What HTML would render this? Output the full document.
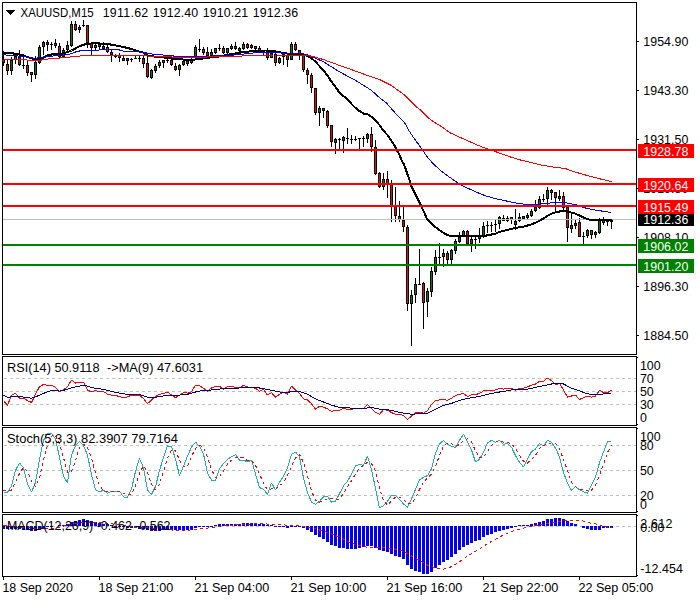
<!DOCTYPE html>
<html><head><meta charset="utf-8"><title>XAUUSD M15</title>
<style>html,body{margin:0;padding:0;background:#fff;}body{width:700px;height:600px;overflow:hidden;font-family:"Liberation Sans",sans-serif;}svg{display:block;}</style>
</head><body>
<svg width="700" height="600" viewBox="0 0 700 600" shape-rendering="crispEdges" font-family="Liberation Sans, sans-serif" font-size="12.4px">
<rect x="0" y="0" width="700" height="600" fill="#fff"/>
<g id="main">
<rect x="3" y="51" width="1" height="15" fill="#000"/>
<rect x="2" y="59" width="3" height="4" fill="#000"/>
<rect x="3" y="60" width="1" height="2" fill="#ff0000"/>
<rect x="7" y="60" width="1" height="15" fill="#000"/>
<rect x="6" y="64" width="3" height="7" fill="#000"/>
<rect x="7" y="65" width="1" height="5" fill="#ff0000"/>
<rect x="11" y="57" width="1" height="18" fill="#000"/>
<rect x="10" y="60" width="3" height="11" fill="#000"/>
<rect x="11" y="61" width="1" height="9" fill="#008000"/>
<rect x="15" y="54" width="1" height="10" fill="#000"/>
<rect x="14" y="56" width="3" height="4" fill="#000"/>
<rect x="15" y="57" width="1" height="2" fill="#008000"/>
<rect x="19" y="50" width="1" height="16" fill="#000"/>
<rect x="18" y="57" width="3" height="8" fill="#000"/>
<rect x="19" y="58" width="1" height="6" fill="#ff0000"/>
<rect x="23" y="57" width="1" height="12" fill="#000"/>
<rect x="22" y="65" width="3" height="1" fill="#000"/>
<rect x="27" y="61" width="1" height="15" fill="#000"/>
<rect x="26" y="65" width="3" height="8" fill="#000"/>
<rect x="27" y="66" width="1" height="6" fill="#ff0000"/>
<rect x="31" y="72" width="1" height="10" fill="#000"/>
<rect x="30" y="72" width="3" height="3" fill="#000"/>
<rect x="31" y="73" width="1" height="1" fill="#ff0000"/>
<rect x="35" y="56" width="1" height="23" fill="#000"/>
<rect x="34" y="62" width="3" height="13" fill="#000"/>
<rect x="35" y="63" width="1" height="11" fill="#008000"/>
<rect x="39" y="45" width="1" height="19" fill="#000"/>
<rect x="38" y="47" width="3" height="16" fill="#000"/>
<rect x="39" y="48" width="1" height="14" fill="#008000"/>
<rect x="43" y="41" width="1" height="14" fill="#000"/>
<rect x="42" y="42" width="3" height="5" fill="#000"/>
<rect x="43" y="43" width="1" height="3" fill="#008000"/>
<rect x="47" y="40" width="1" height="11" fill="#000"/>
<rect x="46" y="42" width="3" height="3" fill="#000"/>
<rect x="47" y="43" width="1" height="1" fill="#ff0000"/>
<rect x="51" y="42" width="1" height="8" fill="#000"/>
<rect x="50" y="44" width="3" height="1" fill="#000"/>
<rect x="55" y="39" width="1" height="9" fill="#000"/>
<rect x="54" y="43" width="3" height="3" fill="#000"/>
<rect x="55" y="44" width="1" height="1" fill="#ff0000"/>
<rect x="59" y="43" width="1" height="15" fill="#000"/>
<rect x="58" y="46" width="3" height="11" fill="#000"/>
<rect x="59" y="47" width="1" height="9" fill="#ff0000"/>
<rect x="63" y="48" width="1" height="10" fill="#000"/>
<rect x="62" y="50" width="3" height="7" fill="#000"/>
<rect x="63" y="51" width="1" height="5" fill="#008000"/>
<rect x="67" y="41" width="1" height="10" fill="#000"/>
<rect x="66" y="45" width="3" height="5" fill="#000"/>
<rect x="67" y="46" width="1" height="3" fill="#008000"/>
<rect x="71" y="21" width="1" height="26" fill="#000"/>
<rect x="70" y="24" width="3" height="22" fill="#000"/>
<rect x="71" y="25" width="1" height="20" fill="#008000"/>
<rect x="75" y="21" width="1" height="10" fill="#000"/>
<rect x="74" y="24" width="3" height="6" fill="#000"/>
<rect x="75" y="25" width="1" height="4" fill="#ff0000"/>
<rect x="79" y="25" width="1" height="8" fill="#000"/>
<rect x="78" y="27" width="3" height="3" fill="#000"/>
<rect x="79" y="28" width="1" height="1" fill="#008000"/>
<rect x="83" y="20" width="1" height="7" fill="#000"/>
<rect x="82" y="25" width="3" height="1" fill="#000"/>
<rect x="87" y="25" width="1" height="23" fill="#000"/>
<rect x="86" y="25" width="3" height="18" fill="#000"/>
<rect x="87" y="26" width="1" height="16" fill="#ff0000"/>
<rect x="91" y="43" width="1" height="12" fill="#000"/>
<rect x="90" y="43" width="3" height="5" fill="#000"/>
<rect x="91" y="44" width="1" height="3" fill="#ff0000"/>
<rect x="95" y="42" width="1" height="8" fill="#000"/>
<rect x="94" y="45" width="3" height="3" fill="#000"/>
<rect x="95" y="46" width="1" height="1" fill="#008000"/>
<rect x="99" y="42" width="1" height="8" fill="#000"/>
<rect x="98" y="44" width="3" height="3" fill="#000"/>
<rect x="99" y="45" width="1" height="1" fill="#ff0000"/>
<rect x="103" y="42" width="1" height="8" fill="#000"/>
<rect x="102" y="46" width="3" height="3" fill="#000"/>
<rect x="103" y="47" width="1" height="1" fill="#008000"/>
<rect x="107" y="45" width="1" height="8" fill="#000"/>
<rect x="106" y="47" width="3" height="5" fill="#000"/>
<rect x="107" y="48" width="1" height="3" fill="#ff0000"/>
<rect x="111" y="50" width="1" height="12" fill="#000"/>
<rect x="110" y="52" width="3" height="3" fill="#000"/>
<rect x="111" y="53" width="1" height="1" fill="#ff0000"/>
<rect x="115" y="54" width="1" height="4" fill="#000"/>
<rect x="114" y="56" width="3" height="1" fill="#000"/>
<rect x="119" y="53" width="1" height="9" fill="#000"/>
<rect x="118" y="55" width="3" height="3" fill="#000"/>
<rect x="119" y="56" width="1" height="1" fill="#ff0000"/>
<rect x="123" y="56" width="1" height="5" fill="#000"/>
<rect x="122" y="58" width="3" height="3" fill="#000"/>
<rect x="123" y="59" width="1" height="1" fill="#ff0000"/>
<rect x="127" y="58" width="1" height="7" fill="#000"/>
<rect x="126" y="58" width="3" height="3" fill="#000"/>
<rect x="127" y="59" width="1" height="1" fill="#ff0000"/>
<rect x="131" y="58" width="1" height="4" fill="#000"/>
<rect x="130" y="59" width="3" height="1" fill="#000"/>
<rect x="135" y="55" width="1" height="3" fill="#000"/>
<rect x="134" y="58" width="3" height="1" fill="#000"/>
<rect x="139" y="55" width="1" height="7" fill="#000"/>
<rect x="138" y="58" width="3" height="1" fill="#000"/>
<rect x="143" y="56" width="1" height="12" fill="#000"/>
<rect x="142" y="58" width="3" height="6" fill="#000"/>
<rect x="143" y="59" width="1" height="4" fill="#ff0000"/>
<rect x="147" y="57" width="1" height="21" fill="#000"/>
<rect x="146" y="63" width="3" height="14" fill="#000"/>
<rect x="147" y="64" width="1" height="12" fill="#ff0000"/>
<rect x="151" y="69" width="1" height="10" fill="#000"/>
<rect x="150" y="70" width="3" height="8" fill="#000"/>
<rect x="151" y="71" width="1" height="6" fill="#008000"/>
<rect x="155" y="64" width="1" height="9" fill="#000"/>
<rect x="154" y="66" width="3" height="5" fill="#000"/>
<rect x="155" y="67" width="1" height="3" fill="#008000"/>
<rect x="159" y="60" width="1" height="8" fill="#000"/>
<rect x="158" y="62" width="3" height="4" fill="#000"/>
<rect x="159" y="63" width="1" height="2" fill="#008000"/>
<rect x="163" y="60" width="1" height="8" fill="#000"/>
<rect x="162" y="60" width="3" height="3" fill="#000"/>
<rect x="163" y="61" width="1" height="1" fill="#008000"/>
<rect x="167" y="58" width="1" height="5" fill="#000"/>
<rect x="166" y="60" width="3" height="1" fill="#000"/>
<rect x="171" y="58" width="1" height="8" fill="#000"/>
<rect x="170" y="60" width="3" height="5" fill="#000"/>
<rect x="171" y="61" width="1" height="3" fill="#ff0000"/>
<rect x="175" y="63" width="1" height="8" fill="#000"/>
<rect x="174" y="66" width="3" height="4" fill="#000"/>
<rect x="175" y="67" width="1" height="2" fill="#ff0000"/>
<rect x="179" y="64" width="1" height="12" fill="#000"/>
<rect x="178" y="65" width="3" height="5" fill="#000"/>
<rect x="179" y="66" width="1" height="3" fill="#008000"/>
<rect x="183" y="60" width="1" height="6" fill="#000"/>
<rect x="182" y="61" width="3" height="4" fill="#000"/>
<rect x="183" y="62" width="1" height="2" fill="#008000"/>
<rect x="187" y="60" width="1" height="6" fill="#000"/>
<rect x="186" y="61" width="3" height="3" fill="#000"/>
<rect x="187" y="62" width="1" height="1" fill="#ff0000"/>
<rect x="191" y="56" width="1" height="8" fill="#000"/>
<rect x="190" y="60" width="3" height="3" fill="#000"/>
<rect x="191" y="61" width="1" height="1" fill="#008000"/>
<rect x="195" y="45" width="1" height="13" fill="#000"/>
<rect x="194" y="47" width="3" height="10" fill="#000"/>
<rect x="195" y="48" width="1" height="8" fill="#008000"/>
<rect x="199" y="39" width="1" height="13" fill="#000"/>
<rect x="198" y="49" width="3" height="1" fill="#000"/>
<rect x="203" y="47" width="1" height="8" fill="#000"/>
<rect x="202" y="49" width="3" height="4" fill="#000"/>
<rect x="203" y="50" width="1" height="2" fill="#ff0000"/>
<rect x="207" y="47" width="1" height="12" fill="#000"/>
<rect x="206" y="52" width="3" height="4" fill="#000"/>
<rect x="207" y="53" width="1" height="2" fill="#ff0000"/>
<rect x="211" y="49" width="1" height="8" fill="#000"/>
<rect x="210" y="52" width="3" height="4" fill="#000"/>
<rect x="211" y="53" width="1" height="2" fill="#008000"/>
<rect x="215" y="48" width="1" height="6" fill="#000"/>
<rect x="214" y="48" width="3" height="5" fill="#000"/>
<rect x="215" y="49" width="1" height="3" fill="#008000"/>
<rect x="219" y="44" width="1" height="7" fill="#000"/>
<rect x="218" y="48" width="3" height="1" fill="#000"/>
<rect x="223" y="46" width="1" height="8" fill="#000"/>
<rect x="222" y="48" width="3" height="5" fill="#000"/>
<rect x="223" y="49" width="1" height="3" fill="#ff0000"/>
<rect x="227" y="48" width="1" height="7" fill="#000"/>
<rect x="226" y="48" width="3" height="5" fill="#000"/>
<rect x="227" y="49" width="1" height="3" fill="#008000"/>
<rect x="231" y="44" width="1" height="6" fill="#000"/>
<rect x="230" y="46" width="3" height="3" fill="#000"/>
<rect x="231" y="47" width="1" height="1" fill="#008000"/>
<rect x="235" y="42" width="1" height="8" fill="#000"/>
<rect x="234" y="46" width="3" height="3" fill="#000"/>
<rect x="235" y="47" width="1" height="1" fill="#ff0000"/>
<rect x="239" y="47" width="1" height="5" fill="#000"/>
<rect x="238" y="48" width="3" height="3" fill="#000"/>
<rect x="239" y="49" width="1" height="1" fill="#008000"/>
<rect x="243" y="42" width="1" height="8" fill="#000"/>
<rect x="242" y="44" width="3" height="5" fill="#000"/>
<rect x="243" y="45" width="1" height="3" fill="#008000"/>
<rect x="247" y="43" width="1" height="6" fill="#000"/>
<rect x="246" y="44" width="3" height="4" fill="#000"/>
<rect x="247" y="45" width="1" height="2" fill="#ff0000"/>
<rect x="251" y="44" width="1" height="5" fill="#000"/>
<rect x="250" y="45" width="3" height="3" fill="#000"/>
<rect x="251" y="46" width="1" height="1" fill="#ff0000"/>
<rect x="255" y="46" width="1" height="4" fill="#000"/>
<rect x="254" y="46" width="3" height="3" fill="#000"/>
<rect x="255" y="47" width="1" height="1" fill="#ff0000"/>
<rect x="259" y="46" width="1" height="5" fill="#000"/>
<rect x="258" y="48" width="3" height="3" fill="#000"/>
<rect x="259" y="49" width="1" height="1" fill="#ff0000"/>
<rect x="263" y="50" width="1" height="5" fill="#000"/>
<rect x="262" y="52" width="3" height="1" fill="#000"/>
<rect x="267" y="48" width="1" height="12" fill="#000"/>
<rect x="266" y="51" width="3" height="7" fill="#000"/>
<rect x="267" y="52" width="1" height="5" fill="#ff0000"/>
<rect x="271" y="51" width="1" height="7" fill="#000"/>
<rect x="270" y="53" width="3" height="5" fill="#000"/>
<rect x="271" y="54" width="1" height="3" fill="#008000"/>
<rect x="275" y="53" width="1" height="13" fill="#000"/>
<rect x="274" y="54" width="3" height="9" fill="#000"/>
<rect x="275" y="55" width="1" height="7" fill="#ff0000"/>
<rect x="279" y="57" width="1" height="7" fill="#000"/>
<rect x="278" y="58" width="3" height="5" fill="#000"/>
<rect x="279" y="59" width="1" height="3" fill="#008000"/>
<rect x="283" y="54" width="1" height="11" fill="#000"/>
<rect x="282" y="54" width="3" height="3" fill="#000"/>
<rect x="283" y="55" width="1" height="1" fill="#008000"/>
<rect x="287" y="54" width="1" height="13" fill="#000"/>
<rect x="286" y="55" width="3" height="5" fill="#000"/>
<rect x="287" y="56" width="1" height="3" fill="#ff0000"/>
<rect x="291" y="42" width="1" height="18" fill="#000"/>
<rect x="290" y="44" width="3" height="16" fill="#000"/>
<rect x="291" y="45" width="1" height="14" fill="#008000"/>
<rect x="295" y="42" width="1" height="9" fill="#000"/>
<rect x="294" y="44" width="3" height="6" fill="#000"/>
<rect x="295" y="45" width="1" height="4" fill="#ff0000"/>
<rect x="299" y="50" width="1" height="10" fill="#000"/>
<rect x="298" y="50" width="3" height="5" fill="#000"/>
<rect x="299" y="51" width="1" height="3" fill="#ff0000"/>
<rect x="303" y="55" width="1" height="17" fill="#000"/>
<rect x="302" y="55" width="3" height="15" fill="#000"/>
<rect x="303" y="56" width="1" height="13" fill="#ff0000"/>
<rect x="307" y="68" width="1" height="16" fill="#000"/>
<rect x="306" y="70" width="3" height="5" fill="#000"/>
<rect x="307" y="71" width="1" height="3" fill="#ff0000"/>
<rect x="311" y="73" width="1" height="20" fill="#000"/>
<rect x="310" y="75" width="3" height="13" fill="#000"/>
<rect x="311" y="76" width="1" height="11" fill="#ff0000"/>
<rect x="315" y="88" width="1" height="27" fill="#000"/>
<rect x="314" y="88" width="3" height="25" fill="#000"/>
<rect x="315" y="89" width="1" height="23" fill="#ff0000"/>
<rect x="319" y="106" width="1" height="20" fill="#000"/>
<rect x="318" y="108" width="3" height="5" fill="#000"/>
<rect x="319" y="109" width="1" height="3" fill="#008000"/>
<rect x="323" y="108" width="1" height="10" fill="#000"/>
<rect x="322" y="108" width="3" height="3" fill="#000"/>
<rect x="323" y="109" width="1" height="1" fill="#ff0000"/>
<rect x="327" y="110" width="1" height="18" fill="#000"/>
<rect x="326" y="111" width="3" height="15" fill="#000"/>
<rect x="327" y="112" width="1" height="13" fill="#ff0000"/>
<rect x="331" y="125" width="1" height="22" fill="#000"/>
<rect x="330" y="125" width="3" height="17" fill="#000"/>
<rect x="331" y="126" width="1" height="15" fill="#ff0000"/>
<rect x="335" y="138" width="1" height="16" fill="#000"/>
<rect x="334" y="139" width="3" height="4" fill="#000"/>
<rect x="335" y="140" width="1" height="2" fill="#008000"/>
<rect x="339" y="138" width="1" height="12" fill="#000"/>
<rect x="338" y="139" width="3" height="1" fill="#000"/>
<rect x="343" y="136" width="1" height="17" fill="#000"/>
<rect x="342" y="137" width="3" height="4" fill="#000"/>
<rect x="343" y="138" width="1" height="2" fill="#008000"/>
<rect x="347" y="128" width="1" height="16" fill="#000"/>
<rect x="346" y="138" width="3" height="1" fill="#000"/>
<rect x="351" y="135" width="1" height="9" fill="#000"/>
<rect x="350" y="139" width="3" height="1" fill="#000"/>
<rect x="355" y="136" width="1" height="5" fill="#000"/>
<rect x="354" y="139" width="3" height="1" fill="#000"/>
<rect x="359" y="138" width="1" height="11" fill="#000"/>
<rect x="358" y="138" width="3" height="1" fill="#000"/>
<rect x="363" y="136" width="1" height="11" fill="#000"/>
<rect x="362" y="138" width="3" height="1" fill="#000"/>
<rect x="367" y="133" width="1" height="10" fill="#000"/>
<rect x="366" y="134" width="3" height="5" fill="#000"/>
<rect x="367" y="135" width="1" height="3" fill="#008000"/>
<rect x="371" y="127" width="1" height="25" fill="#000"/>
<rect x="370" y="134" width="3" height="13" fill="#000"/>
<rect x="371" y="135" width="1" height="11" fill="#ff0000"/>
<rect x="375" y="140" width="1" height="35" fill="#000"/>
<rect x="374" y="147" width="3" height="27" fill="#000"/>
<rect x="375" y="148" width="1" height="25" fill="#ff0000"/>
<rect x="379" y="172" width="1" height="16" fill="#000"/>
<rect x="378" y="173" width="3" height="14" fill="#000"/>
<rect x="379" y="174" width="1" height="12" fill="#ff0000"/>
<rect x="383" y="173" width="1" height="17" fill="#000"/>
<rect x="382" y="179" width="3" height="8" fill="#000"/>
<rect x="383" y="180" width="1" height="6" fill="#008000"/>
<rect x="387" y="171" width="1" height="27" fill="#000"/>
<rect x="386" y="179" width="3" height="5" fill="#000"/>
<rect x="387" y="180" width="1" height="3" fill="#ff0000"/>
<rect x="391" y="180" width="1" height="42" fill="#000"/>
<rect x="390" y="184" width="3" height="22" fill="#000"/>
<rect x="391" y="185" width="1" height="20" fill="#ff0000"/>
<rect x="395" y="187" width="1" height="35" fill="#000"/>
<rect x="394" y="206" width="3" height="10" fill="#000"/>
<rect x="395" y="207" width="1" height="8" fill="#ff0000"/>
<rect x="399" y="201" width="1" height="21" fill="#000"/>
<rect x="398" y="216" width="3" height="4" fill="#000"/>
<rect x="399" y="217" width="1" height="2" fill="#ff0000"/>
<rect x="403" y="207" width="1" height="25" fill="#000"/>
<rect x="402" y="220" width="3" height="7" fill="#000"/>
<rect x="403" y="221" width="1" height="5" fill="#ff0000"/>
<rect x="407" y="225" width="1" height="86" fill="#000"/>
<rect x="406" y="227" width="3" height="77" fill="#000"/>
<rect x="407" y="228" width="1" height="75" fill="#ff0000"/>
<rect x="411" y="290" width="1" height="56" fill="#000"/>
<rect x="410" y="295" width="3" height="9" fill="#000"/>
<rect x="411" y="296" width="1" height="7" fill="#008000"/>
<rect x="415" y="278" width="1" height="25" fill="#000"/>
<rect x="414" y="284" width="3" height="11" fill="#000"/>
<rect x="415" y="285" width="1" height="9" fill="#008000"/>
<rect x="419" y="249" width="1" height="35" fill="#000"/>
<rect x="418" y="284" width="3" height="1" fill="#000"/>
<rect x="423" y="282" width="1" height="47" fill="#000"/>
<rect x="422" y="283" width="3" height="20" fill="#000"/>
<rect x="423" y="284" width="1" height="18" fill="#ff0000"/>
<rect x="427" y="288" width="1" height="29" fill="#000"/>
<rect x="426" y="291" width="3" height="11" fill="#000"/>
<rect x="427" y="292" width="1" height="9" fill="#008000"/>
<rect x="431" y="267" width="1" height="30" fill="#000"/>
<rect x="430" y="271" width="3" height="21" fill="#000"/>
<rect x="431" y="272" width="1" height="19" fill="#008000"/>
<rect x="435" y="250" width="1" height="25" fill="#000"/>
<rect x="434" y="257" width="3" height="15" fill="#000"/>
<rect x="435" y="258" width="1" height="13" fill="#008000"/>
<rect x="439" y="243" width="1" height="21" fill="#000"/>
<rect x="438" y="257" width="3" height="1" fill="#000"/>
<rect x="443" y="249" width="1" height="18" fill="#000"/>
<rect x="442" y="253" width="3" height="4" fill="#000"/>
<rect x="443" y="254" width="1" height="2" fill="#008000"/>
<rect x="447" y="251" width="1" height="13" fill="#000"/>
<rect x="446" y="253" width="3" height="7" fill="#000"/>
<rect x="447" y="254" width="1" height="5" fill="#ff0000"/>
<rect x="451" y="249" width="1" height="15" fill="#000"/>
<rect x="450" y="250" width="3" height="10" fill="#000"/>
<rect x="451" y="251" width="1" height="8" fill="#008000"/>
<rect x="455" y="239" width="1" height="15" fill="#000"/>
<rect x="454" y="241" width="3" height="10" fill="#000"/>
<rect x="455" y="242" width="1" height="8" fill="#008000"/>
<rect x="459" y="232" width="1" height="11" fill="#000"/>
<rect x="458" y="237" width="3" height="5" fill="#000"/>
<rect x="459" y="238" width="1" height="3" fill="#008000"/>
<rect x="463" y="230" width="1" height="7" fill="#000"/>
<rect x="462" y="231" width="3" height="5" fill="#000"/>
<rect x="463" y="232" width="1" height="3" fill="#008000"/>
<rect x="467" y="230" width="1" height="14" fill="#000"/>
<rect x="466" y="231" width="3" height="13" fill="#000"/>
<rect x="467" y="232" width="1" height="11" fill="#ff0000"/>
<rect x="471" y="236" width="1" height="16" fill="#000"/>
<rect x="470" y="239" width="3" height="5" fill="#000"/>
<rect x="471" y="240" width="1" height="3" fill="#008000"/>
<rect x="475" y="236" width="1" height="13" fill="#000"/>
<rect x="474" y="239" width="3" height="1" fill="#000"/>
<rect x="479" y="228" width="1" height="15" fill="#000"/>
<rect x="478" y="236" width="3" height="3" fill="#000"/>
<rect x="479" y="237" width="1" height="1" fill="#008000"/>
<rect x="483" y="222" width="1" height="16" fill="#000"/>
<rect x="482" y="226" width="3" height="10" fill="#000"/>
<rect x="483" y="227" width="1" height="8" fill="#008000"/>
<rect x="487" y="221" width="1" height="12" fill="#000"/>
<rect x="486" y="225" width="3" height="1" fill="#000"/>
<rect x="491" y="222" width="1" height="10" fill="#000"/>
<rect x="490" y="225" width="3" height="1" fill="#000"/>
<rect x="495" y="220" width="1" height="12" fill="#000"/>
<rect x="494" y="224" width="3" height="1" fill="#000"/>
<rect x="499" y="216" width="1" height="13" fill="#000"/>
<rect x="498" y="217" width="3" height="7" fill="#000"/>
<rect x="499" y="218" width="1" height="5" fill="#008000"/>
<rect x="503" y="215" width="1" height="6" fill="#000"/>
<rect x="502" y="218" width="3" height="3" fill="#000"/>
<rect x="503" y="219" width="1" height="1" fill="#ff0000"/>
<rect x="507" y="216" width="1" height="6" fill="#000"/>
<rect x="506" y="218" width="3" height="3" fill="#000"/>
<rect x="507" y="219" width="1" height="1" fill="#008000"/>
<rect x="511" y="217" width="1" height="7" fill="#000"/>
<rect x="510" y="217" width="3" height="3" fill="#000"/>
<rect x="511" y="218" width="1" height="1" fill="#ff0000"/>
<rect x="515" y="209" width="1" height="21" fill="#000"/>
<rect x="514" y="221" width="3" height="4" fill="#000"/>
<rect x="515" y="222" width="1" height="2" fill="#008000"/>
<rect x="519" y="213" width="1" height="9" fill="#000"/>
<rect x="518" y="217" width="3" height="4" fill="#000"/>
<rect x="519" y="218" width="1" height="2" fill="#008000"/>
<rect x="523" y="216" width="1" height="3" fill="#000"/>
<rect x="522" y="216" width="3" height="3" fill="#000"/>
<rect x="523" y="217" width="1" height="1" fill="#008000"/>
<rect x="527" y="213" width="1" height="6" fill="#000"/>
<rect x="526" y="215" width="3" height="3" fill="#000"/>
<rect x="527" y="216" width="1" height="1" fill="#008000"/>
<rect x="531" y="209" width="1" height="8" fill="#000"/>
<rect x="530" y="211" width="3" height="5" fill="#000"/>
<rect x="531" y="212" width="1" height="3" fill="#008000"/>
<rect x="535" y="200" width="1" height="12" fill="#000"/>
<rect x="534" y="207" width="3" height="4" fill="#000"/>
<rect x="535" y="208" width="1" height="2" fill="#008000"/>
<rect x="539" y="196" width="1" height="13" fill="#000"/>
<rect x="538" y="199" width="3" height="9" fill="#000"/>
<rect x="539" y="200" width="1" height="7" fill="#008000"/>
<rect x="543" y="194" width="1" height="8" fill="#000"/>
<rect x="542" y="199" width="3" height="1" fill="#000"/>
<rect x="547" y="187" width="1" height="18" fill="#000"/>
<rect x="546" y="190" width="3" height="9" fill="#000"/>
<rect x="547" y="191" width="1" height="7" fill="#008000"/>
<rect x="551" y="189" width="1" height="11" fill="#000"/>
<rect x="550" y="190" width="3" height="3" fill="#000"/>
<rect x="551" y="191" width="1" height="1" fill="#ff0000"/>
<rect x="555" y="192" width="1" height="19" fill="#000"/>
<rect x="554" y="192" width="3" height="6" fill="#000"/>
<rect x="555" y="193" width="1" height="4" fill="#ff0000"/>
<rect x="559" y="190" width="1" height="11" fill="#000"/>
<rect x="558" y="196" width="3" height="3" fill="#000"/>
<rect x="559" y="197" width="1" height="1" fill="#008000"/>
<rect x="563" y="192" width="1" height="19" fill="#000"/>
<rect x="562" y="196" width="3" height="12" fill="#000"/>
<rect x="563" y="197" width="1" height="10" fill="#ff0000"/>
<rect x="567" y="207" width="1" height="35" fill="#000"/>
<rect x="566" y="207" width="3" height="21" fill="#000"/>
<rect x="567" y="208" width="1" height="19" fill="#ff0000"/>
<rect x="571" y="214" width="1" height="19" fill="#000"/>
<rect x="570" y="225" width="3" height="4" fill="#000"/>
<rect x="571" y="226" width="1" height="2" fill="#008000"/>
<rect x="575" y="220" width="1" height="9" fill="#000"/>
<rect x="574" y="223" width="3" height="3" fill="#000"/>
<rect x="575" y="224" width="1" height="1" fill="#008000"/>
<rect x="579" y="218" width="1" height="19" fill="#000"/>
<rect x="578" y="222" width="3" height="15" fill="#000"/>
<rect x="579" y="223" width="1" height="13" fill="#ff0000"/>
<rect x="583" y="232" width="1" height="12" fill="#000"/>
<rect x="582" y="236" width="3" height="1" fill="#000"/>
<rect x="587" y="229" width="1" height="9" fill="#000"/>
<rect x="586" y="230" width="3" height="6" fill="#000"/>
<rect x="587" y="231" width="1" height="4" fill="#008000"/>
<rect x="591" y="230" width="1" height="9" fill="#000"/>
<rect x="590" y="230" width="3" height="5" fill="#000"/>
<rect x="591" y="231" width="1" height="3" fill="#ff0000"/>
<rect x="595" y="231" width="1" height="7" fill="#000"/>
<rect x="594" y="232" width="3" height="3" fill="#000"/>
<rect x="595" y="233" width="1" height="1" fill="#008000"/>
<rect x="599" y="218" width="1" height="16" fill="#000"/>
<rect x="598" y="219" width="3" height="14" fill="#000"/>
<rect x="599" y="220" width="1" height="12" fill="#008000"/>
<rect x="603" y="217" width="1" height="8" fill="#000"/>
<rect x="602" y="220" width="3" height="3" fill="#000"/>
<rect x="603" y="221" width="1" height="1" fill="#008000"/>
<rect x="607" y="219" width="1" height="7" fill="#000"/>
<rect x="606" y="221" width="3" height="1" fill="#000"/>
<rect x="611" y="219" width="1" height="10" fill="#000"/>
<rect x="610" y="219" width="3" height="3" fill="#000"/>
<rect x="611" y="220" width="1" height="1" fill="#008000"/>
<rect x="3" y="219" width="633" height="1" fill="#c0c0c0"/>
<polyline points="3.5,52.5 7.5,52.8 11.5,53.0 15.5,54.0 19.5,54.6 23.5,55.4 27.5,57.0 31.5,58.5 35.5,58.9 39.5,58.6 43.5,57.5 47.5,55.4 51.5,54.5 55.5,54.0 59.5,53.8 63.5,53.4 67.5,52.0 71.5,50.5 75.5,48.5 79.5,46.2 83.5,44.8 87.5,43.7 91.5,43.5 95.5,43.0 99.5,43.5 107.5,44.0 113.5,45.0 119.5,46.2 125.5,47.5 131.5,49.0 137.5,51.0 143.5,52.7 147.5,55.5 151.5,56.2 155.5,56.7 165.5,57.7 175.5,59.0 187.5,59.8 195.5,59.5 200.5,59.0 207.5,57.7 215.5,57.0 221.5,56.0 227.5,54.8 235.5,53.4 243.5,52.0 255.5,51.0 265.5,50.5 275.5,51.5 283.5,53.0 290.5,54.0 299.5,54.2 303.5,54.6 307.5,56.0 311.5,58.2 315.5,61.8 319.5,66.1 323.5,70.4 327.5,75.4 331.5,81.8 335.5,86.9 339.5,92.6 343.5,96.2 347.5,99.0 351.5,104.0 355.5,108.0 359.5,111.0 363.5,113.5 367.5,114.2 371.5,116.8 375.5,120.5 379.5,125.0 383.5,130.8 387.5,135.1 391.5,140.8 395.5,147.3 399.5,155.2 401.5,160.0 403.5,163.6 405.5,168.6 407.5,174.3 409.5,180.0 411.5,186.5 415.5,194.4 419.5,202.3 423.5,211.0 426.9,218.6 430.0,222.3 433.4,225.4 436.5,228.0 439.8,230.4 442.5,232.2 445.5,234.0 448.0,235.1 450.1,235.9 455.5,236.1 481.5,236.2 485.5,235.7 490.5,234.7 495.5,233.7 499.5,231.9 507.5,229.9 515.5,228.0 523.5,226.6 531.5,224.4 539.5,220.9 547.5,215.8 551.5,213.7 555.5,212.3 559.5,211.5 563.5,210.8 567.5,211.5 571.5,212.7 575.5,213.7 579.5,215.6 585.5,218.4 590.5,219.9 595.5,220.4 611.5,220.4" fill="none" stroke="#000" stroke-width="2" stroke-linejoin="bevel" />
<polyline points="3.5,54.5 7.5,55.4 15.5,55.4 19.5,56.3 27.5,57.1 35.5,58.4 39.5,57.5 47.5,56.5 59.5,55.5 67.5,54.8 71.5,53.5 75.5,52.0 79.5,51.0 83.5,50.5 95.5,50.5 100.5,49.8 107.5,49.0 113.5,49.3 119.5,50.0 123.5,51.2 135.5,51.5 143.5,52.4 151.5,54.0 159.5,54.8 171.5,55.5 175.5,56.5 187.5,56.7 195.5,57.0 215.5,55.8 232.5,55.2 245.5,53.8 255.5,52.7 275.5,52.7 290.5,53.4 303.5,53.9 307.5,55.0 315.5,58.2 323.5,61.8 331.5,66.8 339.5,71.8 347.5,76.1 355.5,80.4 363.5,85.4 371.5,90.4 375.5,94.0 380.5,98.6 386.5,103.0 392.5,110.0 398.5,116.5 404.5,122.5 408.5,130.0 414.5,139.0 420.5,147.0 426.5,156.0 432.5,163.0 440.5,170.5 448.5,176.5 456.5,182.0 464.5,186.8 470.5,189.5 478.5,193.0 485.5,195.8 495.5,198.7 505.5,200.8 515.5,203.0 525.5,204.4 535.5,204.4 545.5,203.7 555.5,202.2 563.5,202.2 570.5,203.7 575.5,204.7 585.5,208.0 595.5,210.1 611.5,212.5" fill="none" stroke="#0000ff" stroke-width="1" stroke-linejoin="bevel" />
<polyline points="3.5,59.3 25.5,59.3 27.5,60.5 40.5,60.5 42.5,59.5 55.5,58.4 70.5,57.0 85.5,55.5 99.5,55.2 143.5,55.5 151.5,56.5 171.5,57.0 195.5,57.4 215.5,56.7 240.5,56.3 245.5,55.2 275.5,55.0 290.5,55.2 307.5,55.3 315.5,57.2 323.5,59.6 331.5,62.5 339.5,65.4 347.5,68.2 355.5,71.1 363.5,74.0 371.5,76.8 380.5,80.0 390.5,85.0 400.5,92.0 404.5,95.0 410.5,101.0 416.5,107.0 420.5,110.0 428.5,118.0 434.5,122.4 440.5,126.0 450.5,133.0 460.5,137.6 470.5,142.0 480.5,146.4 490.5,149.8 500.5,153.5 510.5,157.0 520.5,160.0 530.5,162.4 540.5,165.0 550.5,166.6 560.5,168.0 566.5,169.0 570.5,170.6 580.5,173.6 590.5,176.4 600.5,179.0 611.5,181.6" fill="none" stroke="#ff0000" stroke-width="1" stroke-linejoin="bevel" />
<rect x="3" y="149" width="633" height="2" fill="#ff0000"/>
<rect x="3" y="183" width="633" height="2" fill="#ff0000"/>
<rect x="3" y="205" width="633" height="2" fill="#ff0000"/>
<rect x="3" y="244" width="633" height="2" fill="#008000"/>
<rect x="3" y="264" width="633" height="2" fill="#008000"/>
</g>
<g id="rsi">
<line x1="4" y1="378.5" x2="636" y2="378.5" stroke="#c0c0c0" stroke-width="1" stroke-dasharray="3 3"/>
<line x1="4" y1="391.5" x2="636" y2="391.5" stroke="#c0c0c0" stroke-width="1" stroke-dasharray="3 3"/>
<line x1="4" y1="404.5" x2="636" y2="404.5" stroke="#c0c0c0" stroke-width="1" stroke-dasharray="3 3"/>
<polyline points="3.5,400.6 7.5,405.4 11.5,395.1 15.5,393.4 19.5,398.2 23.5,398.2 27.5,400.6 31.5,402.5 35.5,394.3 39.5,386.6 43.5,384.5 47.5,385.2 51.5,385.4 55.5,387.4 59.5,392.0 63.5,389.7 67.5,386.6 71.5,380.0 75.5,383.1 79.5,382.3 83.5,382.3 87.5,390.0 91.5,392.0 95.5,390.3 99.5,392.0 103.5,391.4 107.5,394.3 111.5,395.1 115.5,395.5 119.5,396.5 123.5,397.7 127.5,396.9 131.5,395.1 135.5,395.1 139.5,395.1 143.5,398.6 147.5,403.7 151.5,400.0 155.5,396.5 159.5,394.3 163.5,393.4 167.5,392.0 171.5,395.1 175.5,397.7 179.5,395.1 183.5,392.6 187.5,393.1 191.5,391.7 195.5,385.2 199.5,385.7 203.5,388.3 207.5,391.4 211.5,388.0 215.5,386.2 219.5,386.2 223.5,389.1 227.5,386.9 231.5,386.2 235.5,387.4 239.5,387.9 243.5,385.4 247.5,386.9 251.5,387.4 255.5,388.3 259.5,391.4 263.5,389.1 267.5,395.1 271.5,392.6 275.5,397.2 279.5,394.3 283.5,392.0 287.5,394.3 291.5,386.2 295.5,390.0 299.5,393.4 303.5,398.9 307.5,400.0 311.5,403.7 315.5,409.2 319.5,406.3 323.5,407.1 327.5,408.9 331.5,411.4 335.5,410.2 339.5,410.2 343.5,408.5 347.5,409.2 351.5,409.4 355.5,408.5 359.5,408.5 363.5,408.5 367.5,404.6 371.5,408.5 375.5,412.3 379.5,414.3 383.5,409.7 387.5,410.2 391.5,412.6 395.5,414.3 399.5,414.3 403.5,415.4 407.5,419.5 411.5,416.0 415.5,412.6 419.5,412.3 423.5,413.1 427.5,410.6 431.5,404.6 435.5,400.3 439.5,400.0 443.5,399.4 447.5,400.3 451.5,398.2 455.5,395.5 459.5,394.3 463.5,393.4 467.5,396.5 471.5,394.8 475.5,394.6 479.5,393.4 483.5,390.9 487.5,390.3 491.5,390.3 495.5,390.0 499.5,388.3 503.5,389.1 507.5,388.3 511.5,388.3 515.5,390.3 519.5,388.3 523.5,388.3 527.5,386.9 531.5,385.2 535.5,384.0 539.5,381.4 543.5,381.4 547.5,378.0 551.5,380.6 555.5,384.5 559.5,383.5 563.5,390.0 567.5,397.2 571.5,396.0 575.5,395.1 579.5,399.4 583.5,397.7 587.5,396.0 591.5,397.2 595.5,396.0 599.5,390.3 603.5,392.6 607.5,392.6 611.5,390.3" fill="none" stroke="#ff0000" stroke-width="1" stroke-linejoin="bevel" />
<polyline points="3.5,395.5 7.5,397.2 11.5,396.9 19.5,396.5 27.5,397.7 31.5,398.2 35.5,396.9 43.5,393.4 51.5,390.3 59.5,390.0 63.5,390.3 67.5,389.1 71.5,387.9 75.5,386.9 79.5,386.2 83.5,385.2 87.5,386.2 91.5,387.4 95.5,388.3 99.5,388.8 103.5,389.3 107.5,390.3 111.5,391.4 115.5,392.3 123.5,393.8 131.5,394.8 139.5,394.5 147.5,397.2 155.5,397.2 163.5,396.0 171.5,395.5 179.5,395.1 187.5,394.3 195.5,392.0 203.5,390.3 211.5,390.0 219.5,389.1 227.5,388.3 231.5,388.3 239.5,388.0 243.5,387.4 255.5,387.4 263.5,388.6 271.5,390.3 279.5,392.0 287.5,392.6 291.5,391.4 299.5,391.4 307.5,394.3 315.5,398.9 323.5,402.0 331.5,405.1 339.5,407.5 347.5,407.8 355.5,408.5 363.5,408.5 371.5,407.5 379.5,409.2 387.5,409.7 395.5,411.4 403.5,413.1 411.5,414.3 419.5,413.7 427.5,413.1 435.5,409.2 443.5,405.4 451.5,403.4 459.5,400.3 463.5,399.4 471.5,397.7 479.5,396.5 487.5,394.3 495.5,392.6 503.5,391.4 511.5,390.0 519.5,389.7 527.5,389.1 535.5,387.4 543.5,385.7 551.5,384.0 559.5,383.5 563.5,384.0 571.5,388.3 579.5,390.9 587.5,393.8 595.5,394.8 599.5,394.8 603.5,393.8 611.5,393.4" fill="none" stroke="#000080" stroke-width="1" stroke-linejoin="bevel" />
</g>
<g id="stoch">
<line x1="4" y1="445.5" x2="636" y2="445.5" stroke="#c0c0c0" stroke-width="1" stroke-dasharray="3 3"/>
<line x1="4" y1="470.5" x2="636" y2="470.5" stroke="#c0c0c0" stroke-width="1" stroke-dasharray="3 3"/>
<line x1="4" y1="495.5" x2="636" y2="495.5" stroke="#c0c0c0" stroke-width="1" stroke-dasharray="3 3"/>
<polyline points="3.5,492.2 7.5,492.2 11.5,485.9 15.5,470.4 19.5,463.1 23.5,467.5 27.5,484.1 31.5,492.2 35.5,482.4 39.5,459.3 43.5,440.4 47.5,433.6 51.5,433.6 55.5,438.7 59.5,457.6 63.5,476.4 67.5,482.9 71.5,455.0 75.5,445.6 79.5,441.3 83.5,445.6 87.5,455.0 91.5,474.7 95.5,489.8 99.5,491.9 103.5,490.1 107.5,493.2 111.5,491.5 115.5,491.5 119.5,491.0 123.5,497.0 127.5,497.3 131.5,489.3 135.5,471.3 139.5,458.4 143.5,467.9 147.5,490.1 151.5,494.4 155.5,486.7 159.5,470.4 163.5,457.6 167.5,445.9 171.5,446.4 175.5,459.3 179.5,475.6 183.5,466.1 187.5,455.9 191.5,447.3 195.5,442.1 199.5,446.4 203.5,454.1 207.5,473.0 211.5,480.2 215.5,480.2 219.5,468.7 223.5,463.6 227.5,459.3 231.5,456.9 235.5,454.5 239.5,460.1 243.5,460.1 247.5,461.9 251.5,460.1 255.5,473.9 259.5,487.6 263.5,489.3 267.5,494.4 271.5,482.9 275.5,490.1 279.5,482.4 283.5,476.1 287.5,467.9 291.5,454.1 295.5,452.1 299.5,456.7 303.5,478.1 307.5,492.7 311.5,502.1 315.5,504.2 319.5,501.3 323.5,497.0 327.5,496.1 331.5,502.1 335.5,501.3 339.5,493.6 343.5,485.9 347.5,481.2 351.5,473.9 355.5,465.8 359.5,464.4 363.5,465.3 367.5,456.2 371.5,469.6 375.5,488.4 379.5,508.1 383.5,505.6 387.5,501.3 391.5,495.3 395.5,495.6 399.5,499.6 403.5,503.9 407.5,507.3 411.5,498.7 415.5,489.3 419.5,479.9 423.5,477.3 427.5,475.6 431.5,468.7 435.5,453.3 439.5,443.9 443.5,440.4 447.5,444.2 451.5,446.4 455.5,447.3 459.5,440.4 463.5,434.4 467.5,442.1 471.5,449.9 475.5,461.9 479.5,459.3 483.5,452.1 487.5,443.0 491.5,440.4 495.5,442.1 499.5,440.4 503.5,444.2 507.5,443.5 511.5,447.3 515.5,455.5 519.5,462.4 523.5,467.0 527.5,459.3 531.5,451.6 535.5,449.0 539.5,443.5 543.5,445.9 547.5,440.4 551.5,442.1 555.5,448.1 559.5,456.7 563.5,472.5 567.5,483.3 571.5,490.5 575.5,486.5 579.5,489.9 583.5,491.9 587.5,493.2 591.5,485.0 595.5,477.3 599.5,462.7 603.5,452.1 607.5,441.3 611.5,442.1" fill="none" stroke="#20b2aa" stroke-width="1" stroke-linejoin="bevel" />
<polyline points="3.5,490.1 7.5,490.7 11.5,490.1 15.5,482.4 19.5,473.3 23.5,467.5 27.5,471.6 31.5,481.6 35.5,486.4 39.5,478.1 43.5,460.1 47.5,444.7 51.5,436.1 55.5,435.6 59.5,443.5 63.5,457.6 67.5,472.1 71.5,471.6 75.5,461.0 79.5,447.3 83.5,444.2 87.5,447.3 91.5,458.4 95.5,473.0 99.5,485.3 103.5,490.7 107.5,491.9 111.5,491.5 115.5,491.9 119.5,491.5 123.5,493.2 127.5,494.9 131.5,494.4 135.5,485.9 139.5,473.0 143.5,465.8 147.5,472.1 151.5,484.1 155.5,490.1 159.5,484.1 163.5,471.6 167.5,457.9 171.5,449.9 175.5,450.7 179.5,460.1 183.5,467.0 187.5,465.8 191.5,456.7 195.5,448.5 199.5,445.2 203.5,447.3 207.5,457.6 211.5,469.2 215.5,477.8 219.5,476.4 223.5,470.9 227.5,464.1 231.5,460.1 235.5,457.6 239.5,456.7 243.5,457.9 247.5,460.7 251.5,460.7 255.5,465.3 259.5,473.9 263.5,483.3 267.5,490.1 271.5,488.8 275.5,489.3 279.5,485.3 283.5,482.9 287.5,475.6 291.5,466.1 295.5,457.9 299.5,454.5 303.5,462.4 307.5,476.4 311.5,491.0 315.5,500.4 319.5,502.1 323.5,501.3 327.5,498.4 331.5,498.4 335.5,499.6 339.5,499.1 343.5,493.6 347.5,486.7 351.5,480.7 355.5,473.9 359.5,467.9 363.5,465.3 367.5,462.4 371.5,463.6 375.5,471.3 379.5,488.4 383.5,500.4 387.5,505.2 391.5,500.8 395.5,497.3 399.5,497.0 403.5,499.6 407.5,503.5 411.5,503.5 415.5,498.4 419.5,489.3 423.5,482.4 427.5,477.8 431.5,473.9 435.5,466.1 439.5,455.5 443.5,445.9 447.5,443.0 451.5,443.5 455.5,445.9 459.5,444.7 463.5,440.8 467.5,438.7 471.5,442.1 475.5,450.7 479.5,457.2 483.5,457.6 487.5,451.6 491.5,445.2 495.5,442.1 499.5,441.3 503.5,442.1 507.5,442.7 511.5,443.5 515.5,448.7 519.5,455.0 523.5,461.3 527.5,463.1 531.5,459.3 535.5,455.5 539.5,448.1 543.5,445.9 547.5,443.5 551.5,443.0 555.5,443.5 559.5,449.0 563.5,459.3 567.5,470.8 571.5,482.4 575.5,486.7 579.5,489.0 583.5,489.3 587.5,491.0 591.5,490.1 595.5,485.0 599.5,475.1 603.5,464.1 607.5,452.4 611.5,445.2" fill="none" stroke="#ff0000" stroke-width="1" stroke-linejoin="bevel" stroke-dasharray="3 3" />
</g>
<g id="macd">
<line x1="4" y1="526.5" x2="636" y2="526.5" stroke="#c0c0c0" stroke-width="1" stroke-dasharray="3 3"/>
<rect x="2" y="526" width="3" height="3" fill="#0000ff"/>
<rect x="6" y="526" width="3" height="3" fill="#0000ff"/>
<rect x="10" y="526" width="3" height="3" fill="#0000ff"/>
<rect x="14" y="526" width="3" height="3" fill="#0000ff"/>
<rect x="18" y="526" width="3" height="3" fill="#0000ff"/>
<rect x="22" y="526" width="3" height="4" fill="#0000ff"/>
<rect x="26" y="526" width="3" height="4" fill="#0000ff"/>
<rect x="30" y="526" width="3" height="5" fill="#0000ff"/>
<rect x="34" y="526" width="3" height="5" fill="#0000ff"/>
<rect x="38" y="526" width="3" height="4" fill="#0000ff"/>
<rect x="42" y="526" width="3" height="3" fill="#0000ff"/>
<rect x="46" y="526" width="3" height="1" fill="#0000ff"/>
<rect x="50" y="526" width="3" height="1" fill="#0000ff"/>
<rect x="58" y="525" width="3" height="1" fill="#0000ff"/>
<rect x="62" y="525" width="3" height="1" fill="#0000ff"/>
<rect x="66" y="524" width="3" height="2" fill="#0000ff"/>
<rect x="70" y="522" width="3" height="4" fill="#0000ff"/>
<rect x="74" y="521" width="3" height="5" fill="#0000ff"/>
<rect x="78" y="520" width="3" height="6" fill="#0000ff"/>
<rect x="82" y="519" width="3" height="7" fill="#0000ff"/>
<rect x="86" y="520" width="3" height="6" fill="#0000ff"/>
<rect x="90" y="521" width="3" height="5" fill="#0000ff"/>
<rect x="94" y="522" width="3" height="4" fill="#0000ff"/>
<rect x="98" y="523" width="3" height="3" fill="#0000ff"/>
<rect x="102" y="524" width="3" height="2" fill="#0000ff"/>
<rect x="106" y="524" width="3" height="2" fill="#0000ff"/>
<rect x="110" y="525" width="3" height="1" fill="#0000ff"/>
<rect x="114" y="526" width="3" height="1" fill="#0000ff"/>
<rect x="118" y="526" width="3" height="1" fill="#0000ff"/>
<rect x="122" y="526" width="3" height="1" fill="#0000ff"/>
<rect x="126" y="526" width="3" height="2" fill="#0000ff"/>
<rect x="130" y="526" width="3" height="2" fill="#0000ff"/>
<rect x="134" y="526" width="3" height="2" fill="#0000ff"/>
<rect x="138" y="526" width="3" height="3" fill="#0000ff"/>
<rect x="142" y="526" width="3" height="3" fill="#0000ff"/>
<rect x="146" y="526" width="3" height="4" fill="#0000ff"/>
<rect x="150" y="526" width="3" height="5" fill="#0000ff"/>
<rect x="154" y="526" width="3" height="5" fill="#0000ff"/>
<rect x="158" y="526" width="3" height="5" fill="#0000ff"/>
<rect x="162" y="526" width="3" height="4" fill="#0000ff"/>
<rect x="166" y="526" width="3" height="4" fill="#0000ff"/>
<rect x="170" y="526" width="3" height="4" fill="#0000ff"/>
<rect x="174" y="526" width="3" height="4" fill="#0000ff"/>
<rect x="178" y="526" width="3" height="4" fill="#0000ff"/>
<rect x="182" y="526" width="3" height="4" fill="#0000ff"/>
<rect x="186" y="526" width="3" height="4" fill="#0000ff"/>
<rect x="190" y="526" width="3" height="4" fill="#0000ff"/>
<rect x="194" y="526" width="3" height="2" fill="#0000ff"/>
<rect x="198" y="526" width="3" height="1" fill="#0000ff"/>
<rect x="202" y="526" width="3" height="1" fill="#0000ff"/>
<rect x="206" y="526" width="3" height="1" fill="#0000ff"/>
<rect x="210" y="526" width="3" height="1" fill="#0000ff"/>
<rect x="214" y="525" width="3" height="1" fill="#0000ff"/>
<rect x="218" y="524" width="3" height="2" fill="#0000ff"/>
<rect x="222" y="524" width="3" height="2" fill="#0000ff"/>
<rect x="226" y="524" width="3" height="2" fill="#0000ff"/>
<rect x="230" y="524" width="3" height="2" fill="#0000ff"/>
<rect x="234" y="524" width="3" height="2" fill="#0000ff"/>
<rect x="238" y="524" width="3" height="2" fill="#0000ff"/>
<rect x="242" y="523" width="3" height="3" fill="#0000ff"/>
<rect x="246" y="523" width="3" height="3" fill="#0000ff"/>
<rect x="250" y="523" width="3" height="3" fill="#0000ff"/>
<rect x="254" y="523" width="3" height="3" fill="#0000ff"/>
<rect x="258" y="524" width="3" height="2" fill="#0000ff"/>
<rect x="262" y="524" width="3" height="2" fill="#0000ff"/>
<rect x="266" y="525" width="3" height="1" fill="#0000ff"/>
<rect x="270" y="525" width="3" height="1" fill="#0000ff"/>
<rect x="274" y="526" width="3" height="1" fill="#0000ff"/>
<rect x="278" y="526" width="3" height="1" fill="#0000ff"/>
<rect x="282" y="526" width="3" height="1" fill="#0000ff"/>
<rect x="286" y="526" width="3" height="2" fill="#0000ff"/>
<rect x="290" y="526" width="3" height="1" fill="#0000ff"/>
<rect x="294" y="526" width="3" height="1" fill="#0000ff"/>
<rect x="298" y="526" width="3" height="1" fill="#0000ff"/>
<rect x="302" y="526" width="3" height="2" fill="#0000ff"/>
<rect x="306" y="526" width="3" height="4" fill="#0000ff"/>
<rect x="310" y="526" width="3" height="6" fill="#0000ff"/>
<rect x="314" y="526" width="3" height="9" fill="#0000ff"/>
<rect x="318" y="526" width="3" height="11" fill="#0000ff"/>
<rect x="322" y="526" width="3" height="13" fill="#0000ff"/>
<rect x="326" y="526" width="3" height="16" fill="#0000ff"/>
<rect x="330" y="526" width="3" height="19" fill="#0000ff"/>
<rect x="334" y="526" width="3" height="20" fill="#0000ff"/>
<rect x="338" y="526" width="3" height="22" fill="#0000ff"/>
<rect x="342" y="526" width="3" height="22" fill="#0000ff"/>
<rect x="346" y="526" width="3" height="23" fill="#0000ff"/>
<rect x="350" y="526" width="3" height="23" fill="#0000ff"/>
<rect x="354" y="526" width="3" height="23" fill="#0000ff"/>
<rect x="358" y="526" width="3" height="22" fill="#0000ff"/>
<rect x="362" y="526" width="3" height="21" fill="#0000ff"/>
<rect x="366" y="526" width="3" height="20" fill="#0000ff"/>
<rect x="370" y="526" width="3" height="20" fill="#0000ff"/>
<rect x="374" y="526" width="3" height="22" fill="#0000ff"/>
<rect x="378" y="526" width="3" height="24" fill="#0000ff"/>
<rect x="382" y="526" width="3" height="25" fill="#0000ff"/>
<rect x="386" y="526" width="3" height="26" fill="#0000ff"/>
<rect x="390" y="526" width="3" height="28" fill="#0000ff"/>
<rect x="394" y="526" width="3" height="30" fill="#0000ff"/>
<rect x="398" y="526" width="3" height="31" fill="#0000ff"/>
<rect x="402" y="526" width="3" height="33" fill="#0000ff"/>
<rect x="406" y="526" width="3" height="39" fill="#0000ff"/>
<rect x="410" y="526" width="3" height="43" fill="#0000ff"/>
<rect x="414" y="526" width="3" height="45" fill="#0000ff"/>
<rect x="418" y="526" width="3" height="46" fill="#0000ff"/>
<rect x="422" y="526" width="3" height="48" fill="#0000ff"/>
<rect x="426" y="526" width="3" height="48" fill="#0000ff"/>
<rect x="430" y="526" width="3" height="46" fill="#0000ff"/>
<rect x="434" y="526" width="3" height="42" fill="#0000ff"/>
<rect x="438" y="526" width="3" height="39" fill="#0000ff"/>
<rect x="442" y="526" width="3" height="36" fill="#0000ff"/>
<rect x="446" y="526" width="3" height="34" fill="#0000ff"/>
<rect x="450" y="526" width="3" height="31" fill="#0000ff"/>
<rect x="454" y="526" width="3" height="28" fill="#0000ff"/>
<rect x="458" y="526" width="3" height="24" fill="#0000ff"/>
<rect x="462" y="526" width="3" height="21" fill="#0000ff"/>
<rect x="466" y="526" width="3" height="19" fill="#0000ff"/>
<rect x="470" y="526" width="3" height="17" fill="#0000ff"/>
<rect x="474" y="526" width="3" height="15" fill="#0000ff"/>
<rect x="478" y="526" width="3" height="14" fill="#0000ff"/>
<rect x="482" y="526" width="3" height="11" fill="#0000ff"/>
<rect x="486" y="526" width="3" height="9" fill="#0000ff"/>
<rect x="490" y="526" width="3" height="8" fill="#0000ff"/>
<rect x="494" y="526" width="3" height="6" fill="#0000ff"/>
<rect x="498" y="526" width="3" height="5" fill="#0000ff"/>
<rect x="502" y="526" width="3" height="4" fill="#0000ff"/>
<rect x="506" y="526" width="3" height="3" fill="#0000ff"/>
<rect x="510" y="526" width="3" height="2" fill="#0000ff"/>
<rect x="514" y="526" width="3" height="1" fill="#0000ff"/>
<rect x="518" y="525" width="3" height="1" fill="#0000ff"/>
<rect x="522" y="525" width="3" height="1" fill="#0000ff"/>
<rect x="526" y="525" width="3" height="1" fill="#0000ff"/>
<rect x="530" y="524" width="3" height="2" fill="#0000ff"/>
<rect x="534" y="523" width="3" height="3" fill="#0000ff"/>
<rect x="538" y="522" width="3" height="4" fill="#0000ff"/>
<rect x="542" y="521" width="3" height="5" fill="#0000ff"/>
<rect x="546" y="519" width="3" height="7" fill="#0000ff"/>
<rect x="550" y="519" width="3" height="7" fill="#0000ff"/>
<rect x="554" y="518" width="3" height="8" fill="#0000ff"/>
<rect x="558" y="518" width="3" height="8" fill="#0000ff"/>
<rect x="562" y="519" width="3" height="7" fill="#0000ff"/>
<rect x="566" y="521" width="3" height="5" fill="#0000ff"/>
<rect x="570" y="523" width="3" height="3" fill="#0000ff"/>
<rect x="574" y="524" width="3" height="2" fill="#0000ff"/>
<rect x="582" y="526" width="3" height="2" fill="#0000ff"/>
<rect x="586" y="526" width="3" height="3" fill="#0000ff"/>
<rect x="590" y="526" width="3" height="4" fill="#0000ff"/>
<rect x="594" y="526" width="3" height="4" fill="#0000ff"/>
<rect x="598" y="526" width="3" height="4" fill="#0000ff"/>
<rect x="602" y="526" width="3" height="2" fill="#0000ff"/>
<rect x="606" y="526" width="3" height="2" fill="#0000ff"/>
<rect x="610" y="526" width="3" height="2" fill="#0000ff"/>
<polyline points="3.5,525.5 20.5,527.4 30.5,528.0 40.5,529.0 50.5,528.6 60.5,526.9 70.5,524.6 75.5,524.0 85.5,522.3 95.5,522.3 105.5,523.1 115.5,524.3 125.5,525.7 135.5,527.1 145.5,527.8 155.5,528.8 165.5,529.5 171.5,530.0 185.5,530.5 195.5,529.5 205.5,528.3 215.5,527.1 222.5,525.7 235.5,524.9 245.5,524.3 255.5,523.7 263.5,523.7 270.5,524.3 280.5,524.3 287.5,525.4 292.5,525.4 300.5,526.2 308.5,527.1 315.5,528.8 322.5,530.9 330.5,533.4 338.5,536.9 345.5,540.3 352.5,543.7 360.5,545.9 368.5,547.5 376.5,547.5 384.5,547.7 392.5,548.5 400.5,550.4 407.5,553.4 412.5,556.6 418.5,560.0 424.5,563.7 430.5,566.3 436.5,568.3 442.5,569.4 448.5,568.0 454.5,565.0 460.5,560.9 467.5,556.2 474.5,551.8 480.5,548.3 487.5,543.7 494.5,539.8 501.5,536.0 508.5,532.9 515.5,530.0 522.5,528.3 530.5,526.6 538.5,525.4 545.5,524.0 552.5,522.6 560.5,521.4 567.5,520.6 575.5,520.1 582.5,520.9 590.5,523.1 597.5,524.3 604.5,526.6 611.5,527.8" fill="none" stroke="#ff0000" stroke-width="1" stroke-linejoin="bevel" stroke-dasharray="3 3" />
</g>
<rect x="2" y="2" width="635" height="1" fill="#000"/><rect x="2" y="354" width="635" height="1" fill="#000"/><rect x="2" y="2" width="1" height="353" fill="#000"/><rect x="636" y="2" width="1" height="353" fill="#000"/>
<rect x="2" y="356" width="635" height="1" fill="#000"/><rect x="2" y="425" width="635" height="1" fill="#000"/><rect x="2" y="356" width="1" height="70" fill="#000"/><rect x="636" y="356" width="1" height="70" fill="#000"/>
<rect x="2" y="427" width="635" height="1" fill="#000"/><rect x="2" y="512" width="635" height="1" fill="#000"/><rect x="2" y="427" width="1" height="86" fill="#000"/><rect x="636" y="427" width="1" height="86" fill="#000"/>
<rect x="2" y="514" width="635" height="1" fill="#000"/><rect x="2" y="576" width="635" height="1" fill="#000"/><rect x="2" y="514" width="1" height="63" fill="#000"/><rect x="636" y="514" width="1" height="63" fill="#000"/>
<rect x="637" y="41" width="2" height="1" fill="#000"/>
<rect x="637" y="90" width="2" height="1" fill="#000"/>
<rect x="637" y="139" width="2" height="1" fill="#000"/>
<rect x="637" y="188" width="2" height="1" fill="#000"/>
<rect x="637" y="237" width="2" height="1" fill="#000"/>
<rect x="637" y="286" width="2" height="1" fill="#000"/>
<rect x="637" y="335" width="2" height="1" fill="#000"/>
<rect x="637" y="357" width="1" height="1" fill="#000"/>
<rect x="637" y="424" width="1" height="1" fill="#000"/>
<rect x="637" y="428" width="1" height="1" fill="#000"/>
<rect x="637" y="511" width="1" height="1" fill="#000"/>
<rect x="637" y="515" width="1" height="1" fill="#000"/>
<rect x="637" y="575" width="1" height="1" fill="#000"/>
<rect x="3" y="577" width="1" height="3" fill="#000"/>
<rect x="99" y="577" width="1" height="3" fill="#000"/>
<rect x="195" y="577" width="1" height="3" fill="#000"/>
<rect x="291" y="577" width="1" height="3" fill="#000"/>
<rect x="387" y="577" width="1" height="3" fill="#000"/>
<rect x="483" y="577" width="1" height="3" fill="#000"/>
<rect x="579" y="577" width="1" height="3" fill="#000"/>
<g shape-rendering="auto">
<text x="643.3" y="45.5" fill="#000" stroke="none" textLength="45" lengthAdjust="spacing">1954.90</text>
<text x="643.3" y="94.5" fill="#000" stroke="none" textLength="45" lengthAdjust="spacing">1943.30</text>
<text x="643.3" y="143.5" fill="#000" stroke="none" textLength="45" lengthAdjust="spacing">1931.50</text>
<text x="643.3" y="192.5" fill="#000" stroke="none" textLength="45" lengthAdjust="spacing">1919.80</text>
<text x="643.3" y="241.5" fill="#000" stroke="none" textLength="45" lengthAdjust="spacing">1908.10</text>
<text x="643.3" y="290.5" fill="#000" stroke="none" textLength="45" lengthAdjust="spacing">1896.30</text>
<text x="643.3" y="339.5" fill="#000" stroke="none" textLength="45" lengthAdjust="spacing">1884.50</text>
<rect x="638" y="212" width="56" height="14" fill="#000"/>
<text x="643.3" y="223.5" fill="#fff" stroke="none" textLength="45" lengthAdjust="spacing">1912.36</text>
<rect x="638" y="144" width="56" height="14" fill="#ff0000"/>
<text x="643.3" y="155.5" fill="#fff" stroke="none" textLength="45" lengthAdjust="spacing">1928.78</text>
<rect x="638" y="178" width="56" height="14" fill="#ff0000"/>
<text x="643.3" y="189.5" fill="#fff" stroke="none" textLength="45" lengthAdjust="spacing">1920.64</text>
<rect x="638" y="200" width="56" height="14" fill="#ff0000"/>
<text x="643.3" y="211.5" fill="#fff" stroke="none" textLength="45" lengthAdjust="spacing">1915.49</text>
<rect x="638" y="239" width="56" height="14" fill="#008000"/>
<text x="643.3" y="250.5" fill="#fff" stroke="none" textLength="45" lengthAdjust="spacing">1906.02</text>
<rect x="638" y="259" width="56" height="14" fill="#008000"/>
<text x="643.3" y="270.5" fill="#fff" stroke="none" textLength="45" lengthAdjust="spacing">1901.20</text>
<text x="639.9" y="370.1" fill="#000" stroke="none" textLength="20.8" lengthAdjust="spacing">100</text>
<text x="639.9" y="383.3" fill="#000" stroke="none" textLength="13.8" lengthAdjust="spacing">70</text>
<text x="639.9" y="396.2" fill="#000" stroke="none" textLength="13.8" lengthAdjust="spacing">50</text>
<text x="639.9" y="409.0" fill="#000" stroke="none" textLength="13.8" lengthAdjust="spacing">30</text>
<text x="639.9" y="422.1" fill="#000" stroke="none" textLength="7.2" lengthAdjust="spacing">0</text>
<text x="639.9" y="441.0" fill="#000" stroke="none" textLength="20.8" lengthAdjust="spacing">100</text>
<text x="639.9" y="450.1" fill="#000" stroke="none" textLength="13.8" lengthAdjust="spacing">80</text>
<text x="639.9" y="475.3" fill="#000" stroke="none" textLength="13.8" lengthAdjust="spacing">50</text>
<text x="639.9" y="499.9" fill="#000" stroke="none" textLength="13.8" lengthAdjust="spacing">20</text>
<text x="639.9" y="509.3" fill="#000" stroke="none" textLength="7.2" lengthAdjust="spacing">0</text>
<text x="640.3" y="528.2" fill="#000" stroke="none" textLength="32" lengthAdjust="spacing">2.612</text>
<text x="640.3" y="532.4" fill="#000" stroke="none" textLength="24" lengthAdjust="spacing">0.00</text>
<text x="640.3" y="573.2" fill="#000" stroke="none" textLength="42.5" lengthAdjust="spacing">-12.454</text>
<text x="2.4" y="592" fill="#000" stroke="none" textLength="70.5" lengthAdjust="spacingAndGlyphs">18 Sep 2020</text>
<text x="98.4" y="592" fill="#000" stroke="none" textLength="75" lengthAdjust="spacingAndGlyphs">18 Sep 21:00</text>
<text x="194.4" y="592" fill="#000" stroke="none" textLength="75" lengthAdjust="spacingAndGlyphs">21 Sep 04:00</text>
<text x="290.4" y="592" fill="#000" stroke="none" textLength="76" lengthAdjust="spacingAndGlyphs">21 Sep 10:00</text>
<text x="386.4" y="592" fill="#000" stroke="none" textLength="76" lengthAdjust="spacingAndGlyphs">21 Sep 16:00</text>
<text x="482.4" y="592" fill="#000" stroke="none" textLength="76" lengthAdjust="spacingAndGlyphs">21 Sep 22:00</text>
<text x="578.4" y="592" fill="#000" stroke="none" textLength="75" lengthAdjust="spacingAndGlyphs">22 Sep 05:00</text>
<g shape-rendering="crispEdges"><rect x="6" y="10" width="9" height="1"/><rect x="7" y="11" width="7" height="1"/><rect x="8" y="12" width="5" height="1"/><rect x="9" y="13" width="3" height="1"/><rect x="10" y="14" width="1" height="1"/></g>
<text x="20.6" y="17" fill="#000" stroke="none" textLength="73" lengthAdjust="spacingAndGlyphs">XAUUSD,M15</text>
<text x="102.7" y="17" fill="#000" stroke="none" textLength="45.5" lengthAdjust="spacing">1911.62</text>
<text x="152.7" y="17" fill="#000" stroke="none" textLength="45.5" lengthAdjust="spacing">1912.40</text>
<text x="202.7" y="17" fill="#000" stroke="none" textLength="45.5" lengthAdjust="spacing">1910.21</text>
<text x="252.7" y="17" fill="#000" stroke="none" textLength="45.5" lengthAdjust="spacing">1912.36</text>
<text x="7" y="372" fill="#000" stroke="none" textLength="92.5" lengthAdjust="spacingAndGlyphs">RSI(14) 50.9118</text>
<text x="107" y="372" fill="#000" stroke="none" textLength="96" lengthAdjust="spacingAndGlyphs">-&gt;MA(9) 47.6031</text>
<text x="7" y="443" fill="#000" stroke="none" textLength="171" lengthAdjust="spacingAndGlyphs">Stoch(5,3,3) 82.3907 79.7164</text>
<text x="7" y="530" fill="#000" stroke="none" textLength="163.5" lengthAdjust="spacingAndGlyphs">MACD(12,26,9) -0.462 -0.562</text>
</g>
</svg>
</body></html>
